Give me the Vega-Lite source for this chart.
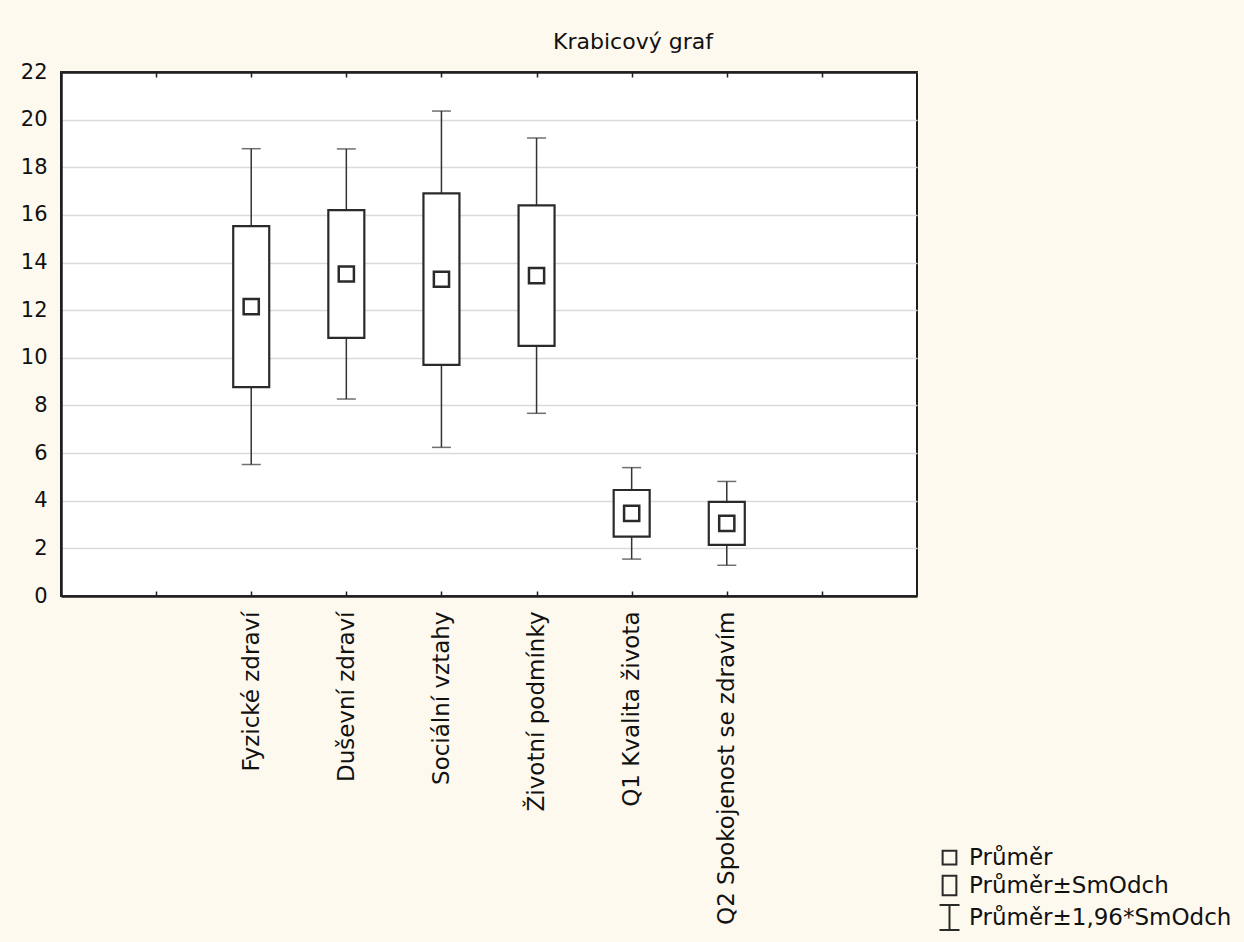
{
  "$schema": "https://vega.github.io/schema/vega-lite/v6.json",
  "width": 856,
  "height": 524,
  "autosize": {"type": "none"},
  "padding": {"left": 61, "top": 72, "right": 327, "bottom": 346},
  "background": "#FEF9EF",
  "title": {
    "text": "Krabicový graf",
    "anchor": "middle",
    "dx": 144,
    "offset": -10,
    "baseline": "alphabetic",
    "font": "DejaVu Sans",
    "fontSize": 22,
    "fontWeight": "normal",
    "color": "#111"
  },
  "config": {
    "view": {"fill": "white", "stroke": "#1e1e1e", "strokeWidth": 2},
    "axis": {
      "labelFont": "DejaVu Sans",
      "labelColor": "#111",
      "domainColor": "#1e1e1e",
      "domainWidth": 2.5,
      "tickColor": "#1e1e1e",
      "tickWidth": 1.5,
      "gridColor": "#dadada",
      "gridWidth": 1.5
    }
  },
  "data": {
    "values": [
      {"var": "Fyzické zdraví", "mean": 12.15, "sdLow": 8.77, "sdHigh": 15.53, "ciLow": 5.52, "ciHigh": 18.78},
      {"var": "Duševní zdraví", "mean": 13.52, "sdLow": 10.84, "sdHigh": 16.2, "ciLow": 8.27, "ciHigh": 18.77},
      {"var": "Sociální vztahy", "mean": 13.3, "sdLow": 9.7, "sdHigh": 16.9, "ciLow": 6.24, "ciHigh": 20.36},
      {"var": "Životní podmínky", "mean": 13.45, "sdLow": 10.5, "sdHigh": 16.4, "ciLow": 7.67, "ciHigh": 19.23},
      {"var": "Q1 Kvalita života", "mean": 3.47, "sdLow": 2.49, "sdHigh": 4.45, "ciLow": 1.55, "ciHigh": 5.39},
      {"var": "Q2 Spokojenost se zdravím", "mean": 3.05, "sdLow": 2.15, "sdHigh": 3.95, "ciLow": 1.29, "ciHigh": 4.81}
    ]
  },
  "resolve": {"axis": {"x": "independent"}},
  "layer": [
    {
      "mark": {"type": "rule", "color": "#333", "strokeWidth": 1.5},
      "encoding": {
        "x": {
          "field": "var",
          "type": "nominal",
          "scale": {
            "type": "point",
            "padding": 1,
            "domain": [" ", "Fyzické zdraví", "Duševní zdraví", "Sociální vztahy", "Životní podmínky", "Q1 Kvalita života", "Q2 Spokojenost se zdravím", "  "]
          },
          "axis": {
            "orient": "bottom",
            "title": null,
            "labelAngle": -90,
            "labelFontSize": 23,
            "tickSize": -5,
            "labelPadding": 20,
            "labelLimit": 400,
            "grid": false
          }
        },
        "y": {
          "field": "ciLow",
          "type": "quantitative",
          "title": null,
          "scale": {"domain": [0, 22], "nice": false},
          "axis": {
            "values": [0, 2, 4, 6, 8, 10, 12, 14, 16, 18, 20, 22],
            "labelFontSize": 21,
            "ticks": false,
            "labelPadding": 14,
            "grid": true
          }
        },
        "y2": {"field": "ciHigh"}
      }
    },
    {
      "mark": {"type": "tick", "color": "#333", "thickness": 1.5, "size": 19},
      "encoding": {
        "x": {"field": "var", "type": "nominal", "axis": null},
        "y": {"field": "ciHigh", "type": "quantitative", "title": null}
      }
    },
    {
      "mark": {"type": "tick", "color": "#333", "thickness": 1.5, "size": 19},
      "encoding": {
        "x": {"field": "var", "type": "nominal", "axis": null},
        "y": {"field": "ciLow", "type": "quantitative", "title": null}
      }
    },
    {
      "mark": {"type": "bar", "fill": "white", "stroke": "#2a2a2a", "strokeWidth": 2.2, "size": 36},
      "encoding": {
        "x": {"field": "var", "type": "nominal", "axis": null},
        "y": {"field": "sdLow", "type": "quantitative", "title": null},
        "y2": {"field": "sdHigh"}
      }
    },
    {
      "mark": {"type": "point", "filled": false, "color": "#2a2a2a", "strokeWidth": 2.5, "size": 760, "opacity": 1},
      "encoding": {
        "x": {
          "field": "var",
          "type": "nominal",
          "axis": {"orient": "top", "title": null, "labels": false, "tickSize": -5, "grid": false}
        },
        "y": {"field": "mean", "type": "quantitative", "title": null},
        "shape": {
          "datum": "Průměr",
          "scale": {
            "domain": ["Průměr", "Průměr±SmOdch", "Průměr±1,96*SmOdch"],
            "range": [
              "M-0.55,-0.55H0.55V0.55H-0.55Z",
              "M-0.55,-0.78H0.55V0.78H-0.55Z",
              "M-0.8,-1H0.8M0,-1V1M-0.8,1H0.8"
            ]
          },
          "legend": {
            "orient": "none",
            "legendX": 875,
            "legendY": 772,
            "title": null,
            "padding": 0,
            "symbolSize": 625,
            "symbolStrokeWidth": 2,
            "symbolStrokeColor": "#2a2a2a",
            "symbolFillColor": "transparent",
            "labelFont": "DejaVu Sans",
            "labelFontSize": 23,
            "labelColor": "#111",
            "labelLimit": 400,
            "labelOffset": 6,
            "rowPadding": 1
          }
        }
      }
    }
  ]
}
